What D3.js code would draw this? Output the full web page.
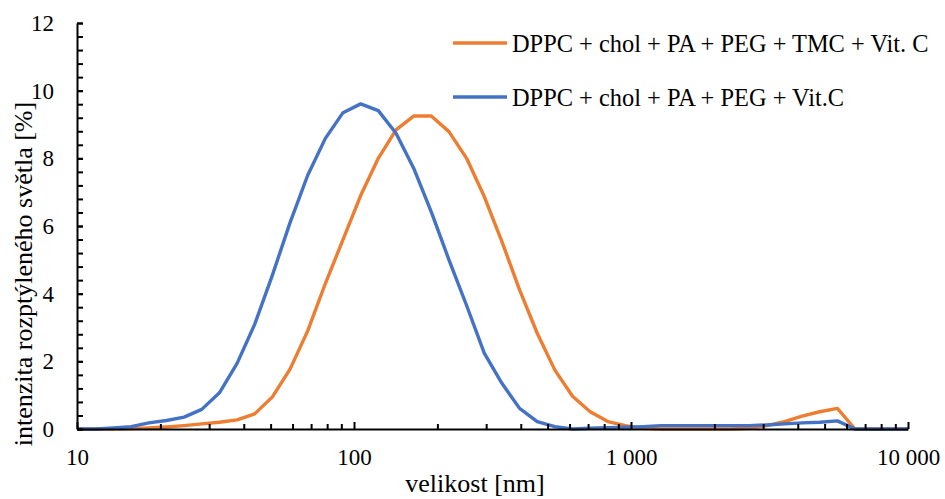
<!DOCTYPE html>
<html>
<head>
<meta charset="utf-8">
<script src="https://cdn.jsdelivr.net/npm/d3@7"></script>
<style>
  html, body { margin: 0; padding: 0; background: #fff; }
  svg { display: block; font-family: "Liberation Serif", "Times New Roman", serif; }
</style>
</head>
<body>
<svg id="chart" width="945" height="499"></svg>
<script>
// Size bins [nm] of the DLS distribution
const sizes = [10.1, 11.7, 13.54, 15.69, 18.17, 21.04, 24.36, 28.21, 32.67, 37.84,
  43.82, 50.75, 58.77, 68.06, 78.82, 91.28, 105.7, 122.4, 141.8, 164.2,
  190.1, 220.2, 255.0, 295.3, 342.0, 396.1, 458.7, 531.2, 615.1, 712.4,
  825.0, 955.4, 1106, 1281, 1484, 1718, 1990, 2305, 2669, 3091,
  3580, 4145, 4801, 5560, 6439, 7456, 8635, 10000];

// Scattered light intensity [%] per bin
const withTMC = [0, 0, 0, 0.01, 0.03, 0.06, 0.1, 0.15, 0.2, 0.27,
  0.45, 0.95, 1.77, 2.9, 4.3, 5.6, 6.9, 8.0, 8.84, 9.25,
  9.25, 8.79, 8.0, 6.87, 5.54, 4.11, 2.83, 1.74, 0.97, 0.51,
  0.22, 0.1, 0.02, 0, 0, 0, 0, 0, 0.02, 0.1,
  0.22, 0.38, 0.51, 0.61, 0, 0, 0, 0];

const withoutTMC = [0, 0, 0.03, 0.07, 0.18, 0.25, 0.35, 0.58, 1.07, 1.94,
  3.1, 4.55, 6.1, 7.5, 8.59, 9.35, 9.61, 9.41, 8.74, 7.71,
  6.42, 5.0, 3.65, 2.24, 1.35, 0.61, 0.22, 0.07, 0, 0.02,
  0.04, 0.05, 0.07, 0.1, 0.1, 0.1, 0.1, 0.1, 0.1, 0.12,
  0.15, 0.18, 0.2, 0.24, 0, 0, 0, 0];

const seriesNames = ["DPPC + chol + PA + PEG + TMC + Vit. C", "DPPC + chol + PA + PEG + Vit.C"];
const seriesColors = ["#ED7D31", "#4472C4"];

const xMajorTicks = [10, 100, 1000, 10000];
const yMajorTicks = [0, 2, 4, 6, 8, 10, 12];

const xTitle = "velikost [nm]";
const yTitle = "intenzita rozptýleného světla [%]";

const svg = d3.select("#chart");
const plotLeft = 77, plotRight = 908, plotTop = 23, plotBottom = 429;

const x = d3.scaleLog().domain([10, 10000]).range([plotLeft, plotRight]);
const y = d3.scaleLinear().domain([0, 12]).range([plotBottom, plotTop]);

// Minor tick positions: 2..9 within each decade, and every 0.4 on the y axis
const xMinor = [];
[10, 100, 1000].forEach(d => { for (let k = 2; k <= 9; k++) xMinor.push(d * k); });
const yMinor = d3.range(0, 12.0001, 0.4).map(v => +v.toFixed(1));

const fmt = d => d3.format(",")(d).replace(/,/g, "\u00A0");

// Lines
const line = d3.line().x((d, i) => x(sizes[i])).y(d => y(d));
[withTMC, withoutTMC].forEach((vals, i) => {
  svg.append("path")
    .datum(vals)
    .attr("d", line)
    .attr("fill", "none")
    .attr("stroke", seriesColors[i])
    .attr("stroke-width", 3.4)
    .attr("stroke-linejoin", "round");
});

// Axes
const gx = svg.append("g").attr("transform", `translate(0,${plotBottom})`);
gx.call(d3.axisBottom(x).tickValues(xMinor).tickSize(-5).tickSizeOuter(0).tickFormat(""));
gx.call(g => g.select(".domain").remove());
svg.append("g").attr("transform", `translate(0,${plotBottom})`)
  .call(d3.axisBottom(x).tickValues(xMajorTicks).tickSize(-7).tickSizeOuter(0).tickPadding(20).tickFormat(fmt));

const gy = svg.append("g").attr("transform", `translate(${plotLeft},0)`);
gy.call(d3.axisLeft(y).tickValues(yMinor).tickSize(-6).tickSizeOuter(0).tickFormat(""));
gy.call(g => g.select(".domain").remove());
svg.append("g").attr("transform", `translate(${plotLeft},0)`)
  .call(d3.axisLeft(y).tickValues(yMajorTicks).tickSize(-6).tickSizeOuter(0).tickPadding(23));

svg.selectAll(".tick line").attr("stroke", "#000").attr("stroke-width", 2);
svg.selectAll(".domain").attr("stroke", "#000").attr("stroke-width", 2);
svg.selectAll(".tick text").attr("font-family", "Liberation Serif, serif").attr("font-size", 23).attr("fill", "#000");

// Axis titles
svg.append("text")
  .attr("x", 475).attr("y", 492)
  .attr("text-anchor", "middle")
  .attr("font-size", 26)
  .text(xTitle);

svg.append("text")
  .attr("transform", "translate(32,274) rotate(-90)")
  .attr("text-anchor", "middle")
  .attr("font-size", 26)
  .text(yTitle);

// Legend
const legendY = [43, 97];
seriesNames.forEach((name, i) => {
  svg.append("line")
    .attr("x1", 453).attr("x2", 507)
    .attr("y1", legendY[i]).attr("y2", legendY[i])
    .attr("stroke", seriesColors[i])
    .attr("stroke-width", 3.4);
  svg.append("text")
    .attr("x", 512).attr("y", legendY[i])
    .attr("dy", "0.35em")
    .attr("font-size", 24.4)
    .text(name);
});
</script>
</body>
</html>
